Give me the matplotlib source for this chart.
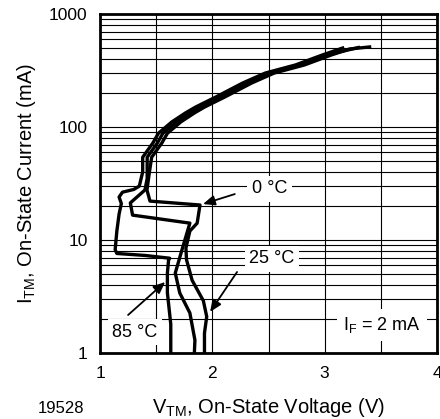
import matplotlib
matplotlib.use("Agg")
import matplotlib.pyplot as plt
import numpy as np
from matplotlib.ticker import FixedLocator, NullFormatter

plt.rcParams["font.family"] = ["Liberation Sans", "DejaVu Sans"]
plt.rcParams["mathtext.fontset"] = "custom"
plt.rcParams["mathtext.rm"] = "Liberation Sans"

# on-state voltage (V) / current (mA)
v_0c = [1.93, 1.93, 1.95, 1.92, 1.82, 1.77, 1.765, 1.80, 1.865, 1.89, 1.445, 1.418,
        1.44, 1.46, 1.55, 1.60, 1.72, 1.84, 1.93, 2.11, 2.35, 2.55, 2.82,
        3.06, 3.22, 3.40]
i_0c = [1.0, 1.5, 2.1, 2.9, 4.4, 6.7, 8.5, 12, 14.1, 20.4, 22.1, 27.7,
        40, 54, 72, 88, 111, 133, 150, 184, 245, 300, 354,
        434, 490, 511]

v_25c = [1.84, 1.845, 1.80, 1.71, 1.67, 1.73, 1.80, 1.29, 1.27, 1.40,
         1.42, 1.42, 1.51, 1.56, 1.68, 1.80, 1.89, 2.07, 2.31, 2.51, 2.78,
         3.02, 3.30]
i_25c = [1.0, 1.3, 2.26, 3.4, 5.1, 8.2, 14.1, 16.6, 21.3, 27.7,
         35, 54, 72, 88, 111, 133, 150, 184, 245, 300, 354,
         434, 505]

v_85c = [1.63, 1.63, 1.60, 1.60, 1.61, 1.62, 1.40, 1.15, 1.135, 1.15, 1.17,
         1.19, 1.17, 1.20, 1.30, 1.35, 1.38, 1.38, 1.47, 1.52, 1.64, 1.76,
         1.85, 2.03, 2.27, 2.47, 2.74, 2.98, 3.16]
i_85c = [1.0, 1.8, 3.4, 5.1, 6.6, 6.9, 7.3, 7.6, 8.2, 12, 17,
         21, 24, 26.5, 28, 30, 40, 54, 72, 88, 111, 133,
         150, 184, 245, 300, 354, 434, 500]

x_ticks = [1, 2, 3, 4]
y_ticks = [1, 10, 100, 1000]
y_labels = ["1", "10", "100", "1000"]

fig = plt.figure(figsize=(4.4, 4.19), dpi=100)
ax = fig.add_axes([100 / 440, 1 - 353 / 419, 337 / 440, 339 / 419])

for v, i in [(v_0c, i_0c), (v_25c, i_25c), (v_85c, i_85c)]:
    ax.plot(v, i, color="black", lw=2.4, solid_joinstyle="round", zorder=3)

ax.set_yscale("log")
ax.set_xlim(1, 4)
ax.set_ylim(1, 1000)
ax.set_xticks(x_ticks)
ax.set_xticks([1.5, 2.5, 3.5], minor=True)
ax.set_yticks(y_ticks)
ax.set_yticklabels(y_labels)
ax.yaxis.set_minor_locator(FixedLocator(
    [m * d for d in (1, 10, 100) for m in range(2, 10)]))
ax.yaxis.set_minor_formatter(NullFormatter())
ax.grid(True, which="both", color="black", lw=0.8)
ax.set_axisbelow(True)
ax.tick_params(which="both", length=0, labelsize=12.5, pad=9)
for s in ax.spines.values():
    s.set_linewidth(2.0)
    s.set_zorder(5)

ax.set_xlabel(r"V$_{\mathrm{TM}}$, On-State Voltage (V)", fontsize=14.5, labelpad=11)
ax.set_ylabel(r"I$_{\mathrm{TM}}$, On-State Current (mA)", fontsize=14.5, labelpad=8)
fig.text(61 / 440, 1 - 408 / 419, "19528", fontsize=12, ha="center", va="center")

box = dict(boxstyle="square,pad=0.25", fc="white", ec="none")
arrow = dict(arrowstyle="-|>,head_length=0.7,head_width=0.3", color="black",
             lw=1.3, shrinkA=0, shrinkB=0)
ax.text(2.51, 28.3, "0 °C", fontsize=13, ha="center", va="center", bbox=box, zorder=4)
ax.annotate("", xy=(1.917, 20.8), xytext=(2.20, 25.5), arrowprops=arrow, zorder=4)
ax.text(2.53, 6.79, "25 °C", fontsize=13, ha="center", va="center", bbox=box, zorder=4)
ax.annotate("", xy=(1.98, 2.31), xytext=(2.22, 5.21), arrowprops=arrow, zorder=4)
ax.text(1.31, 1.53, "85 °C", fontsize=13, ha="center", va="center", bbox=box, zorder=4)
ax.annotate("", xy=(1.58, 4.25), xytext=(1.25, 2.17), arrowprops=arrow, zorder=4)
ax.text(3.51, 1.77, r"I$_{\mathrm{F}}$ = 2 mA", fontsize=13, ha="center", va="center",
        bbox=dict(boxstyle="square,pad=0.35", fc="white", ec="none"), zorder=4)

fig.savefig("out.png", dpi=100)
